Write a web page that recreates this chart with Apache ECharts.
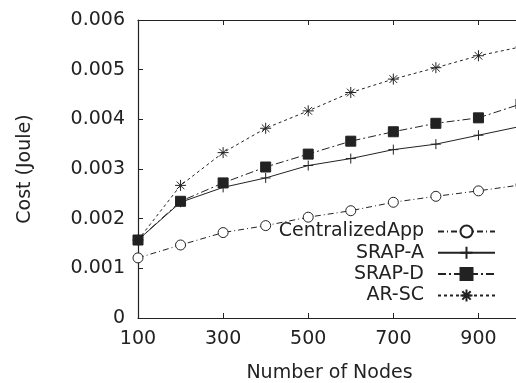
<!DOCTYPE html>
<html>
<head>
<meta charset="utf-8">
<script src="https://cdn.jsdelivr.net/npm/echarts@6/dist/echarts.min.js"></script>
<style>
  html, body { margin: 0; padding: 0; background: #fff; }
  #main { width: 516px; height: 383px; }
</style>
</head>
<body>
<div id="main"></div>
<script>
// x categories (number of nodes)
const nodes = ['100', '200', '300', '400', '500', '600', '700', '800', '900', '1000']

// cost in joule
const centralizedApp = [0.00121, 0.00147, 0.00172, 0.00186, 0.00203, 0.00216, 0.00233, 0.00245, 0.00256, 0.00268]
const srapA = [0.00157, 0.00233, 0.00263, 0.00282, 0.00307, 0.00321, 0.00339, 0.0035, 0.00368, 0.00386]
const srapD = [0.00157, 0.00235, 0.00272, 0.00304, 0.0033, 0.00356, 0.00375, 0.00392, 0.00403, 0.00431]
const arSc = [0.00157, 0.00267, 0.00333, 0.00382, 0.00417, 0.00454, 0.00481, 0.00504, 0.00528, 0.00546]

const ink = '#222'
const font = 'DejaVu Sans'

// stroked symbols (gnuplot style + and *)
const plusPath = 'path://M0,5L10,5M5,0L5,10'
const starPath = 'path://M0,5L10,5M5,0L5,10M1.5,1.5L8.5,8.5M8.5,1.5L1.5,8.5'

var chartDom = document.getElementById('main')
var myChart = echarts.init(chartDom)

function mkSeries(name, data, symbol, size, dash, fill) {
  return {
    name: name,
    type: 'line',
    data: data,
    symbol: symbol,
    symbolSize: size,
    showAllSymbol: true,
    lineStyle: { color: ink, width: 1, type: dash },
    itemStyle: { color: fill, borderColor: ink, borderWidth: 1 },
    emphasis: { disabled: true },
    clip: false,
  }
}

var option = {
  animation: false,
  textStyle: { fontFamily: font, color: ink },
  // fixed plot box; the 1000 end sits just past the right edge of the picture
  grid: { left: 138, right: -5, top: 20, bottom: 65, outerBoundsMode: 'none', containLabel: false },
  legend: {
    orient: 'vertical',
    right: 15,
    top: 217,
    align: 'right',
    itemWidth: 57,
    itemHeight: 15,
    itemGap: 2.3,
    selectedMode: false,
    textStyle: { fontFamily: font, fontSize: 19, color: ink, padding: [0, 9, 0, 0] },
    data: ['CentralizedApp', 'SRAP-A', 'SRAP-D', 'AR-SC'],
  },
  xAxis: [
    {
      type: 'category',
      data: nodes,
      boundaryGap: false,
      name: 'Number of Nodes',
      nameLocation: 'middle',
      nameGap: 46,
      nameTextStyle: { fontFamily: font, fontSize: 19, color: ink },
      axisLine: { onZero: false, lineStyle: { color: ink, width: 1.2 } },
      axisTick: { inside: true, length: 5, interval: 1, lineStyle: { color: ink } },
      axisLabel: { interval: 1, margin: 12, fontFamily: font, fontSize: 19, color: ink },
      splitLine: { show: false },
    },
    {
      type: 'category',
      data: nodes,
      boundaryGap: false,
      position: 'top',
      axisLine: { onZero: false, lineStyle: { color: ink, width: 1.2 } },
      axisTick: { inside: true, length: 5, interval: 1, lineStyle: { color: ink } },
      axisLabel: { show: false },
      splitLine: { show: false },
    },
  ],
  yAxis: [
    {
      type: 'value',
      min: 0,
      max: 0.006,
      interval: 0.001,
      name: 'Cost (Joule)',
      nameLocation: 'middle',
      nameGap: 103,
      nameTextStyle: { fontFamily: font, fontSize: 19, color: ink },
      axisLine: { show: true, onZero: false, lineStyle: { color: ink, width: 1.2 } },
      axisTick: { show: true, inside: true, length: 5, lineStyle: { color: ink } },
      axisLabel: { margin: 13, fontFamily: font, fontSize: 19, color: ink },
      splitLine: { show: false },
    },
    {
      type: 'value',
      min: 0,
      max: 0.006,
      interval: 0.001,
      position: 'right',
      axisLine: { show: true, onZero: false, lineStyle: { color: ink, width: 1.2 } },
      axisTick: { show: true, inside: true, length: 5, lineStyle: { color: ink } },
      axisLabel: { show: false },
      splitLine: { show: false },
    },
  ],
  series: [
    mkSeries('CentralizedApp', centralizedApp, 'circle', 10, [6, 3, 1, 3], '#fff'),
    mkSeries('SRAP-A', srapA, plusPath, 10, 'solid', 'none'),
    mkSeries('SRAP-D', srapD, 'rect', 10, [8, 3, 2, 3], ink),
    mkSeries('AR-SC', arSc, starPath, 11, [3, 3], 'none'),
  ],
}

option && myChart.setOption(option)
</script>
</body>
</html>
